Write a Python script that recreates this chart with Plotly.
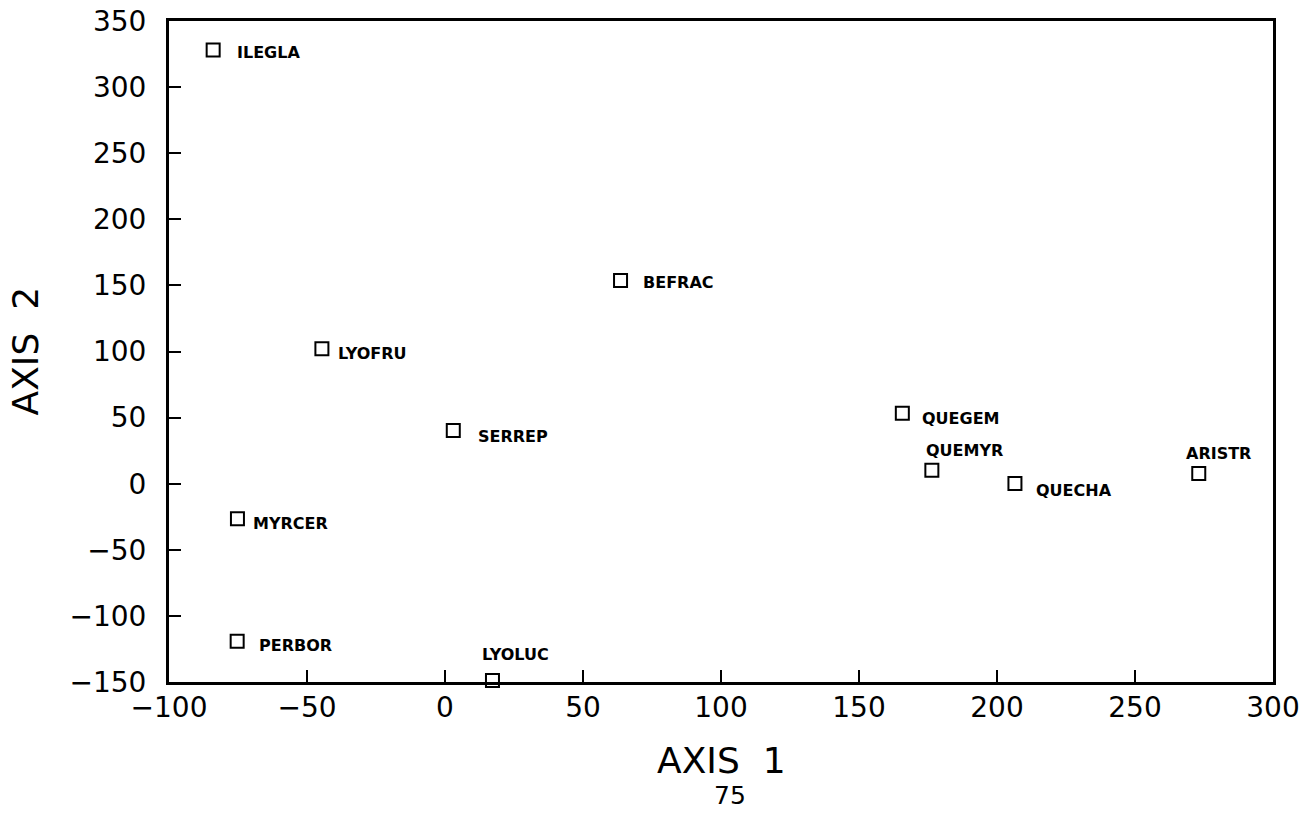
import plotly.graph_objects as go

# ---- data ----
species = ["ILEGLA", "BEFRAC", "LYOFRU", "SERREP", "QUEGEM", "QUEMYR",
           "QUECHA", "ARISTR", "MYRCER", "PERBOR", "LYOLUC"]
axis1 = [-84.0, 63.6, -44.6, 3.0, 165.7, 176.4, 206.5, 273.1, -75.2, -75.3, 17.2]
axis2 = [328.0, 153.8, 102.1, 40.3, 53.2, 10.1, 0.2, 7.8, -26.5, -119.1, -148.8]
x_ticks = [-100, -50, 0, 50, 100, 150, 200, 250, 300]
y_ticks = [-150, -100, -50, 0, 50, 100, 150, 200, 250, 300, 350]

# ---- label placement (pixel offsets from marker) ----
label_offsets = {
    "ILEGLA": (22, -2), "BEFRAC": (20, -2), "LYOFRU": (14, -5),
    "SERREP": (23, -6), "QUEGEM": (18, -5), "QUEMYR": (-8, 20),
    "QUECHA": (19, -7), "ARISTR": (-15, 20), "MYRCER": (14, -5),
    "PERBOR": (20, -4), "LYOLUC": (-12, 26),
}

FONT = "DejaVu Sans"

fig = go.Figure()
fig.add_trace(go.Scatter(
    x=axis1, y=axis2, mode="markers",
    marker=dict(symbol="square-open", size=13, color="black",
                line=dict(width=2, color="black")),
    cliponaxis=False, showlegend=False, hoverinfo="text", text=species,
))

for name, xv, yv in zip(species, axis1, axis2):
    dx, dy = label_offsets[name]
    fig.add_annotation(x=xv, y=yv, xref="x", yref="y", text=name,
                       showarrow=False, xanchor="left", yanchor="middle",
                       xshift=dx, yshift=dy,
                       font=dict(family=FONT, size=16, color="black", weight="bold"))

fig.add_annotation(text="AXIS  1", xref="paper", yref="paper", x=0.5, y=0,
                   yshift=-78, showarrow=False, xanchor="center", yanchor="middle",
                   font=dict(family=FONT, size=36, color="black"))
fig.add_annotation(text="AXIS  2", xref="paper", yref="paper", x=0, y=0.5,
                   xshift=-144, yshift=0, textangle=-90, showarrow=False,
                   xanchor="center", yanchor="middle",
                   font=dict(family=FONT, size=36, color="black"))
fig.add_annotation(text="75", xref="paper", yref="paper", x=0.5, y=0,
                   xshift=9, yshift=-113, showarrow=False, xanchor="center",
                   yanchor="middle", font=dict(family=FONT, size=25, color="black"))

axis_common = dict(showline=True, linewidth=3, linecolor="black", mirror=True,
                   ticks="inside", ticklen=12, tickwidth=2, tickcolor="black",
                   showgrid=False, zeroline=False, automargin=False,
                   tickfont=dict(family=FONT, size=28, color="black"))

fig.update_xaxes(range=[-100, 300], tickvals=x_ticks,
                 ticktext=[str(v).replace("-", "\u2212") for v in x_ticks],
                 ticklabelstandoff=-2, **axis_common)
fig.update_yaxes(range=[-150, 350], tickvals=y_ticks,
                 ticktext=[str(v).replace("-", "\u2212") for v in y_ticks],
                 ticklabelstandoff=14, **axis_common)

fig.update_layout(width=1311, height=814, plot_bgcolor="white", paper_bgcolor="white",
                  margin=dict(l=169, r=38, t=21, b=132, autoexpand=False), showlegend=False)

fig.write_html("out.html", config={"displayModeBar": False},
               post_script="document.body.style.margin='0px';document.body.style.overflow='hidden';")
